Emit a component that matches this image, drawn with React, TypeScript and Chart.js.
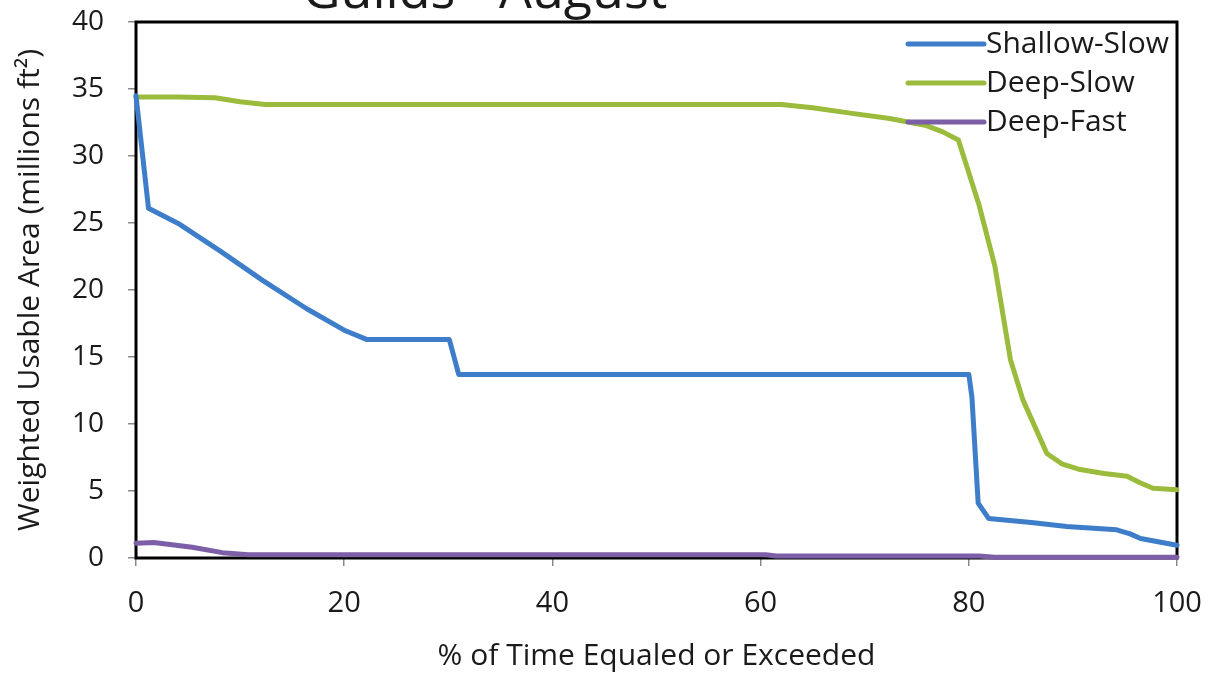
import React, { useEffect, useRef } from "react";
import { Chart, registerables } from "chart.js";

Chart.register(...registerables);

const chartTitle = "Guilds - August";
const xAxisTitle = "% of Time Equaled or Exceeded";
const yAxisTitle = "Weighted Usable Area (millions ft\u00B2)";

const seriesNames = ["Shallow-Slow", "Deep-Slow", "Deep-Fast"];
const seriesColors = ["#3D7DCA", "#9BBB3C", "#7D5FA8"];

const shallowSlowX = [0, 1.2, 4.2, 8.1, 12.2, 16.4, 20, 22.2, 30.1, 31.0, 80.0, 80.3, 80.9, 81.9, 86, 89.4, 94.2, 95.5, 96.5, 100];
const shallowSlowY = [34.5, 26.1, 24.9, 22.9, 20.7, 18.6, 17.0, 16.3, 16.3, 13.7, 13.7, 12.0, 4.1, 2.95, 2.65, 2.35, 2.1, 1.8, 1.45, 0.95];

const deepSlowX = [0, 4, 7.6, 10, 12.4, 30, 62, 65, 68.6, 72.4, 75.8, 77.5, 79, 81, 82.5, 84, 85.2, 87.5, 89, 90.7, 93, 95.2, 96.5, 97.7, 100];
const deepSlowY = [34.4, 34.4, 34.35, 34.05, 33.85, 33.85, 33.85, 33.6, 33.2, 32.8, 32.3, 31.8, 31.2, 26.3, 21.8, 14.8, 11.8, 7.8, 7.0, 6.6, 6.3, 6.1, 5.6, 5.2, 5.1];

const deepFastX = [0, 1.7, 5.4, 8.3, 10.8, 60.5, 61.5, 81, 82.5, 100];
const deepFastY = [1.1, 1.15, 0.8, 0.4, 0.25, 0.25, 0.15, 0.15, 0.05, 0.05];

const xTicks = [0, 20, 40, 60, 80, 100];
const yTicks = [0, 5, 10, 15, 20, 25, 30, 35, 40];

const FONT = "'Open Sans', 'DejaVu Sans', sans-serif";

function toPoints(xs: number[], ys: number[]) {
  return xs.map((x, i) => ({ x, y: ys[i] }));
}

const framePlugin = {
  id: "frame",
  beforeDatasetsDraw(chart: any) {
    const { ctx, chartArea } = chart;
    ctx.save();
    ctx.strokeStyle = "#000";
    ctx.lineWidth = 3;
    ctx.strokeRect(chartArea.left, chartArea.top, chartArea.right - chartArea.left, chartArea.bottom - chartArea.top);
    ctx.restore();
  },
};

const titlePlugin = {
  id: "cutTitle",
  afterDraw(chart: any) {
    const { ctx } = chart;
    ctx.save();
    ctx.font = `52px ${FONT}`;
    ctx.fillStyle = "#1a1a1a";
    ctx.textAlign = "center";
    ctx.textBaseline = "alphabetic";
    ctx.fillText(chartTitle, 485, 8);
    ctx.restore();
  },
};

const legendPlugin = {
  id: "lineLegend",
  afterDraw(chart: any) {
    const { ctx } = chart;
    const x0 = 908;
    const lineLen = 76;
    const y0 = 44;
    const gap = 39;
    ctx.save();
    ctx.font = `30px ${FONT}`;
    ctx.textAlign = "left";
    ctx.textBaseline = "middle";
    chart.data.datasets.forEach((ds: any, i: number) => {
      const y = y0 + i * gap;
      ctx.strokeStyle = ds.borderColor;
      ctx.lineWidth = 5;
      ctx.lineCap = "round";
      ctx.beginPath();
      ctx.moveTo(x0, y);
      ctx.lineTo(x0 + lineLen, y);
      ctx.stroke();
      ctx.fillStyle = "#1a1a1a";
      ctx.fillText(ds.label, x0 + lineLen + 2, y);
    });
    ctx.restore();
  },
};

export default function App() {
  const canvasRef = useRef<HTMLCanvasElement | null>(null);

  useEffect(() => {
    if (!canvasRef.current) return;
    const seriesX = [shallowSlowX, deepSlowX, deepFastX];
    const seriesY = [shallowSlowY, deepSlowY, deepFastY];
    const chart = new Chart(canvasRef.current, {
      type: "line",
      data: {
        datasets: seriesNames.map((name, i) => ({
          label: name,
          data: toPoints(seriesX[i], seriesY[i]),
          borderColor: seriesColors[i],
          backgroundColor: seriesColors[i],
          borderWidth: 5,
          pointRadius: 0,
          tension: 0,
          borderJoinStyle: "round" as const,
          borderCapStyle: "round" as const,
          clip: 6,
        })),
      },
      options: {
        animation: false,
        responsive: false,
        maintainAspectRatio: false,
        devicePixelRatio: 1,
        layout: { padding: { top: 22, right: 34, left: 0, bottom: 0 } },
        plugins: {
          legend: { display: false },
          title: { display: false },
          tooltip: { enabled: false },
        },
        scales: {
          x: {
            type: "linear",
            min: 0,
            max: 100,
            afterFit(scale: any) {
              scale.height = 116;
              scale.paddingLeft = 0;
              scale.paddingRight = 0;
              scale.paddingTop = 0;
              scale.paddingBottom = 0;
            },
            afterBuildTicks(scale: any) {
              scale.ticks = xTicks.map((v) => ({ value: v }));
            },
            grid: { drawOnChartArea: false, drawTicks: true, tickLength: 8, color: "#8a8a8a", lineWidth: 1.5 },
            border: { display: false },
            ticks: { font: { family: FONT, size: 29 }, color: "#1a1a1a", padding: 20, maxRotation: 0 },
            title: {
              display: true,
              text: xAxisTitle,
              font: { family: FONT, size: 30 },
              color: "#1a1a1a",
              padding: { top: 0, bottom: 0 },
            },
          },
          y: {
            type: "linear",
            min: 0,
            max: 40,
            afterFit(scale: any) {
              scale.width = 136;
              scale.paddingLeft = 0;
              scale.paddingRight = 0;
              scale.paddingTop = 0;
              scale.paddingBottom = 0;
            },
            afterBuildTicks(scale: any) {
              scale.ticks = yTicks.map((v) => ({ value: v }));
            },
            grid: { drawOnChartArea: false, drawTicks: true, tickLength: 8, color: "#8a8a8a", lineWidth: 1.5 },
            border: { display: false },
            ticks: { font: { family: FONT, size: 28 }, color: "#1a1a1a", padding: 24 },
            title: {
              display: true,
              text: yAxisTitle,
              font: { family: FONT, size: 30 },
              color: "#1a1a1a",
              padding: { top: 12, bottom: 0 },
            },
          },
        },
      },
      plugins: [framePlugin, titlePlugin, legendPlugin],
    });
    return () => chart.destroy();
  }, []);

  return (
    <div style={{ position: "absolute", left: 0, top: 0, width: 1211, height: 674, background: "#fff" }}>
      <canvas ref={canvasRef} width={1211} height={674} style={{ display: "block" }} />
    </div>
  );
}
